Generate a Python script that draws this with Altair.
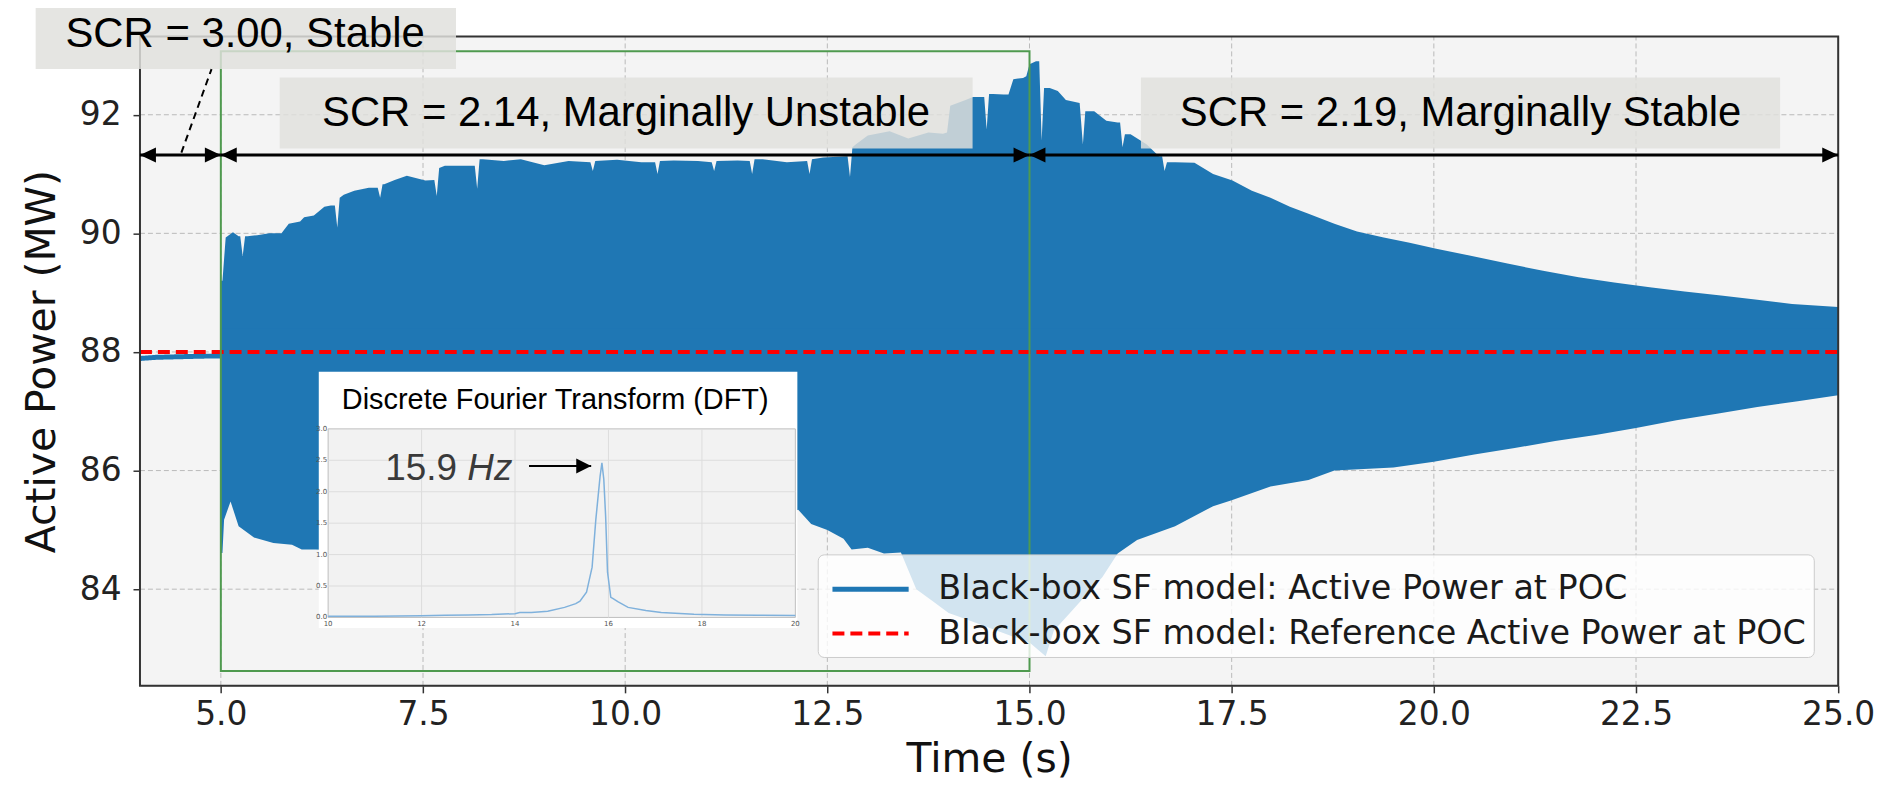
import altair as alt
import pandas as pd

# ---------------- values ----------------
BLUE = "#1f77b4"

# steady-state segment before the SCR change (t < 5 s)
pre_t = [4.0, 4.2, 4.5, 4.8, 5.0]
pre_p = [87.89, 87.91, 87.92, 87.93, 87.93]

# reference active power (dashed red)
ref_t = [4.0, 25.0]
ref_p = [88.0, 88.0]

# upper envelope of the oscillating active power
up_t = [5.0, 5.02, 5.06, 5.15, 5.22, 5.24, 5.27, 5.30, 5.33, 5.45, 5.6, 5.75, 5.84, 5.98,
        6.03, 6.15, 6.28, 6.36, 6.41, 6.44, 6.47, 6.52, 6.65, 6.83, 6.94, 6.97, 7.0, 7.02,
        7.15, 7.30, 7.53, 7.64, 7.67, 7.70, 7.77, 8.0, 8.14, 8.17, 8.20, 8.24, 8.5, 8.71,
        9.0, 9.3, 9.57, 9.6, 9.63, 9.9, 10.2, 10.37, 10.4, 10.43, 10.6, 10.9, 11.07, 11.1,
        11.13, 11.39, 11.54, 11.57, 11.6, 11.7, 12.0, 12.25, 12.28, 12.31, 12.45, 12.75,
        12.78, 12.81, 12.85, 13.0, 13.27, 13.5, 13.75, 13.93, 13.98, 14.02, 14.21, 14.3,
        14.44, 14.47, 14.5, 14.55, 14.68, 14.74, 14.8, 14.92, 14.96, 15.0, 15.08, 15.12,
        15.15, 15.18, 15.25, 15.35, 15.45, 15.62, 15.66, 15.69, 15.8, 15.95, 16.09, 16.12,
        16.15, 16.18, 16.25, 16.45, 16.6, 16.64, 16.67, 16.70, 16.8, 17.04, 17.27, 17.51,
        17.75, 17.98, 18.22, 18.45, 18.77, 19.05, 19.38, 19.7, 20.03, 20.47, 20.91, 21.35,
        21.79, 22.23, 22.67, 23.1, 23.55, 24.0, 24.43, 25.0]
up_p = [89.2, 89.2, 89.93, 90.02, 89.95, 89.95, 89.62, 89.95, 89.95, 89.97, 90.0, 90.0, 90.16, 90.2,
        90.27, 90.3, 90.45, 90.47, 90.47, 90.1, 90.6, 90.65, 90.72, 90.77, 90.77, 90.6, 90.83, 90.83,
        90.9, 90.97, 90.89, 90.9, 90.63, 91.1, 91.14, 91.14, 91.14, 90.75, 91.25, 91.25, 91.22, 91.25,
        91.15, 91.22, 91.2, 91.05, 91.22, 91.24, 91.2, 91.2, 91.0, 91.22, 91.23, 91.22, 91.2, 91.05,
        91.22, 91.23, 91.22, 91.0, 91.25, 91.25, 91.2, 91.22, 91.0, 91.25, 91.28, 91.3,
        90.95, 91.45, 91.5, 91.65, 91.72, 91.6, 91.7, 91.68, 91.7, 92.15, 92.25, 92.3,
        92.3, 91.75, 92.35, 92.35, 92.34, 92.34, 92.6, 92.62, 92.65, 92.85, 92.9, 92.9,
        91.56, 92.45, 92.45, 92.4, 92.25, 92.2, 91.5, 92.06, 92.06, 91.9, 91.87, 91.87,
        91.45, 91.67, 91.67, 91.5, 91.3, 91.3, 91.05, 91.2, 91.2, 91.19, 91.0, 90.89,
        90.72, 90.6, 90.45, 90.33, 90.16, 90.03, 89.93, 89.84, 89.74, 89.62, 89.49, 89.37,
        89.26, 89.17, 89.09, 89.02, 88.95, 88.88, 88.81, 88.76]

# lower envelope of the oscillating active power
lo_t = [5.0, 5.02, 5.04, 5.12, 5.22, 5.41, 5.65, 5.88, 6.0, 6.17, 6.6, 7.2, 8.0, 9.0, 10.0,
        11.0, 11.8, 12.14, 12.3, 12.5, 12.7, 12.8, 13.0, 13.2, 13.41, 13.6, 13.8, 14.0, 14.2,
        14.4, 14.6, 14.8, 15.0, 15.2, 15.3, 15.5, 15.7, 15.9, 16.09, 16.33, 16.8, 17.27, 17.5,
        17.98, 18.45, 18.77, 19.5, 20.0, 20.5, 21.0, 21.5, 22.0, 22.5, 23.0, 23.5, 24.0, 24.5, 25.0]
lo_p = [84.61, 84.61, 85.17, 85.48, 85.06, 84.87, 84.78, 84.75, 84.67, 84.67, 84.65, 84.7, 84.75, 84.8, 84.9,
        85.0, 85.2, 85.34, 85.1, 85.0, 84.85, 84.67, 84.7, 84.6, 84.62, 84.0, 83.8, 83.6, 83.5,
        83.4, 83.3, 83.2, 83.1, 82.87, 83.3, 83.6, 83.9, 84.2, 84.6, 84.83, 85.06, 85.4, 85.5,
        85.73, 85.84, 86.0, 86.05, 86.15, 86.27, 86.38, 86.5, 86.6, 86.72, 86.85, 86.96, 87.07, 87.17, 87.27]

series_names = ["Black-box SF model: Active Power at POC",
                "Black-box SF model: Reference Active Power at POC"]

# axis ticks
x_ticks = [5.0, 7.5, 10.0, 12.5, 15.0, 17.5, 20.0, 22.5, 25.0]
y_ticks = [84, 86, 88, 90, 92]
x_dom = [4.0, 25.0]
y_dom = [82.37, 93.32]

# annotation boxes
box_labels = ["SCR = 3.00, Stable", "SCR = 2.14, Marginally Unstable", "SCR = 2.19, Marginally Stable"]
box_x0 = [2.71, 5.728, 16.378]
box_x1 = [7.908, 14.296, 24.281]
box_y0 = [92.77, 91.43, 91.43]
box_y1 = [93.95, 92.63, 92.63]
box_tx = [5.30, 10.01, 20.33]
box_ty = [93.36, 92.03, 92.03]

# section arrows
arrow_x0 = [4.0, 5.0, 15.0]
arrow_x1 = [5.0, 15.0, 25.0]
arrow_y = [91.32, 91.32, 91.32]

# connector from the first label to its section
conn_x = [4.512, 4.885]
conn_y = [91.36, 92.77]

# zoom window (green)
win_x = [5.0, 15.0]
win_y = [82.62, 93.07]

# DFT inset
dft_f = [10.0, 11.0, 12.0, 12.5, 13.0, 13.5, 14.0, 14.1, 14.35, 14.7, 15.06, 15.3, 15.39, 15.53,
         15.65, 15.73, 15.82, 15.86, 15.9, 15.94, 15.98, 16.05, 16.1, 16.2, 16.42, 16.8, 17.13,
         17.83, 18.5, 19.2, 20.0]
dft_a = [0.02, 0.02, 0.025, 0.035, 0.04, 0.045, 0.06, 0.08, 0.08, 0.1, 0.16, 0.22, 0.26, 0.4,
         0.8, 1.56, 2.24, 2.46, 2.2, 1.6, 0.72, 0.32, 0.3, 0.25, 0.16, 0.11, 0.08,
         0.05, 0.04, 0.035, 0.03]
dft_xticks = [10, 12, 14, 16, 18, 20]
dft_yticks = [0.0, 0.5, 1.0, 1.5, 2.0, 2.5, 3.0]
inset_box_x = [9.80, 20.043]
inset_box_y = [-0.17, 3.908]
inset_title = "Discrete Fourier Transform (DFT)"
inset_title_pos = [14.86, 3.46]
peak_num = "15.9"
peak_unit = "Hz"
peak_text_pos = [12.76, 12.98, 2.19]
peak_arrow = [14.30, 15.63, 2.41]

# ---------------- chart ----------------
W, H = 1705, 652
xs = alt.Scale(domain=x_dom, nice=False, zero=False)
ys = alt.Scale(domain=y_dom, nice=False, zero=False)
GRID = "#b9b9b9"

xaxis = alt.Axis(values=x_ticks, format=".1f", title="Time (s)", labelFont="DejaVu Sans",
                 labelFontSize=33, labelColor="#222", titleFont="DejaVu Sans", titleFontSize=41,
                 titleFontWeight="normal", titleColor="#111", tickSize=7, tickColor="#333",
                 tickWidth=1.5, domain=False, grid=False, labelPadding=6, titlePadding=8,
                 labelFlush=False, orient="bottom")
yaxis = alt.Axis(values=y_ticks, format="d", title="Active Power (MW)", labelFont="DejaVu Sans",
                 labelFontSize=33, labelColor="#222", titleFont="DejaVu Sans", titleFontSize=41,
                 titleFontWeight="normal", titleColor="#111", tickSize=7, tickColor="#333",
                 tickWidth=1.5, domain=False, grid=False, labelPadding=12, titlePadding=16,
                 orient="left")

# plot background and dashed grid (drawn as marks so they sit under the data)
bg_df = pd.DataFrame({"x0": [x_dom[0]], "x1": [x_dom[1]], "y0": [y_dom[0]], "y1": [y_dom[1]]})
bg = alt.Chart(bg_df).mark_rect(fill="#f4f4f4").encode(
    x=alt.X("x0:Q", scale=xs, axis=xaxis), x2="x1:Q",
    y=alt.Y("y0:Q", scale=ys, axis=yaxis), y2="y1:Q",
)
gx_df = pd.DataFrame({"x": x_ticks[:-1], "y0": y_dom[0], "y1": y_dom[1]})
gridx = alt.Chart(gx_df).mark_rule(color=GRID, strokeWidth=1, strokeDash=[5, 3]).encode(
    x=alt.X("x:Q", scale=xs, axis=None),
    y=alt.Y("y0:Q", scale=ys, axis=None), y2="y1:Q",
)
gy_df = pd.DataFrame({"y": y_ticks, "x0": x_dom[0], "x1": x_dom[1]})
gridy = alt.Chart(gy_df).mark_rule(color=GRID, strokeWidth=1, strokeDash=[5, 3]).encode(
    y=alt.Y("y:Q", scale=ys, axis=None),
    x=alt.X("x0:Q", scale=xs, axis=None), x2="x1:Q",
)

up_df = pd.DataFrame({"t": up_t, "p": up_p})
lo_df = pd.DataFrame({"t": lo_t, "p": lo_p})

band_up = alt.Chart(up_df).mark_area(color=BLUE, opacity=1).encode(
    x=alt.X("t:Q", scale=xs, axis=None),
    y=alt.Y("p:Q", scale=ys, axis=None),
    y2=alt.datum(87.6),
)
band_lo = alt.Chart(lo_df).mark_area(color=BLUE, opacity=1).encode(
    x=alt.X("t:Q", scale=xs, axis=None),
    y=alt.Y("p:Q", scale=ys, axis=None),
    y2=alt.datum(88.4),
)

line_df = pd.concat([
    pd.DataFrame({"t": pre_t, "p": pre_p, "series": series_names[0]}),
    pd.DataFrame({"t": ref_t, "p": ref_p, "series": series_names[1]}),
])
leg = alt.Legend(title=None, orient="none", legendX=680.5, legendY=520,
                 symbolType="M-1.5,0L1.5,0", symbolSize=2601, symbolStrokeWidth=5,
                 symbolOffset=18, labelOffset=40, rowPadding=0, padding=7,
                 labelFont="DejaVu Sans", labelFontSize=33.5, labelColor="#1a1a1a",
                 fillColor="rgba(255,255,255,0.8)", strokeColor="#cccccc", cornerRadius=6,
                 labelLimit=2000, symbolFillColor="transparent")
lines = alt.Chart(line_df).mark_line().encode(
    x=alt.X("t:Q", scale=xs, axis=None),
    y=alt.Y("p:Q", scale=ys, axis=None),
    color=alt.Color("series:N", scale=alt.Scale(domain=series_names, range=[BLUE, "#ff0000"]), legend=leg),
    strokeDash=alt.StrokeDash("series:N", scale=alt.Scale(domain=series_names, range=[[1, 0], [12, 6]]), legend=leg),
    strokeWidth=alt.StrokeWidth("series:N", scale=alt.Scale(domain=series_names, range=[5, 4]), legend=None),
)

win_df = pd.DataFrame({"x0": [win_x[0]], "x1": [win_x[1]], "y0": [win_y[0]], "y1": [win_y[1]]})
window = alt.Chart(win_df).mark_rect(fill="transparent", stroke="#4f9a4f", strokeWidth=2).encode(
    x=alt.X("x0:Q", scale=xs, axis=None), x2="x1:Q",
    y=alt.Y("y0:Q", scale=ys, axis=None), y2="y1:Q",
)

frame = alt.Chart(bg_df).mark_rect(fill="transparent", stroke="#333", strokeWidth=2).encode(
    x=alt.X("x0:Q", scale=xs, axis=None), x2="x1:Q",
    y=alt.Y("y0:Q", scale=ys, axis=None), y2="y1:Q",
)

box_df = pd.DataFrame({"x0": box_x0, "x1": box_x1, "y0": box_y0, "y1": box_y1,
                       "tx": box_tx, "ty": box_ty, "label": box_labels})
boxes = alt.Chart(box_df).mark_rect(fill="#e0e0dc", opacity=0.84).encode(
    x=alt.X("x0:Q", scale=xs, axis=None), x2="x1:Q",
    y=alt.Y("y0:Q", scale=ys, axis=None), y2="y1:Q",
)
box_text = alt.Chart(box_df).mark_text(font="Liberation Sans", fontSize=42, color="#000",
                                       baseline="middle", align="center").encode(
    x=alt.X("tx:Q", scale=xs, axis=None),
    y=alt.Y("ty:Q", scale=ys, axis=None),
    text="label:N",
)

arr_df = pd.DataFrame({"x0": arrow_x0, "x1": arrow_x1, "y": arrow_y})
arr_lines = alt.Chart(arr_df).mark_rule(color="#000", strokeWidth=3).encode(
    x=alt.X("x0:Q", scale=xs, axis=None), x2="x1:Q",
    y=alt.Y("y:Q", scale=ys, axis=None),
)
head_df = pd.DataFrame({
    "x": arrow_x0 + arrow_x1,
    "y": arrow_y + arrow_y,
    "dir": ["L"] * len(arrow_x0) + ["R"] * len(arrow_x1),
})
HEAD_L = "M0,0L2,-0.94L2,0.94Z"
HEAD_R = "M0,0L-2,-0.94L-2,0.94Z"
heads = alt.Chart(head_df).mark_point(filled=True, color="#000", size=256, opacity=1, strokeWidth=0).encode(
    x=alt.X("x:Q", scale=xs, axis=None),
    y=alt.Y("y:Q", scale=ys, axis=None),
    shape=alt.Shape("dir:N", scale=alt.Scale(domain=["L", "R"], range=[HEAD_L, HEAD_R]), legend=None),
)

conn_df = pd.DataFrame({"x0": [conn_x[0]], "x1": [conn_x[1]], "y0": [conn_y[0]], "y1": [conn_y[1]]})
conn = alt.Chart(conn_df).mark_rule(color="#000", strokeWidth=2, strokeDash=[7, 5]).encode(
    x=alt.X("x0:Q", scale=xs, axis=None), x2="x1:Q",
    y=alt.Y("y0:Q", scale=ys, axis=None), y2="y1:Q",
)

# ---------------- inset (own scales) ----------------
ixs = alt.Scale(domain=[10, 20], range=[188.9, 658.0], nice=False, zero=False)
iys = alt.Scale(domain=[0, 3], range=[583.3, 394.0], nice=False, zero=False)

ibox_df = pd.DataFrame({"x0": [inset_box_x[0]], "x1": [inset_box_x[1]],
                        "y0": [inset_box_y[0]], "y1": [inset_box_y[1]]})
ibox = alt.Chart(ibox_df).mark_rect(fill="white").encode(
    x=alt.X("x0:Q", scale=ixs, axis=None), x2="x1:Q",
    y=alt.Y("y0:Q", scale=iys, axis=None), y2="y1:Q",
)
iplot_df = pd.DataFrame({"x0": [dft_xticks[0]], "x1": [dft_xticks[-1]],
                         "y0": [dft_yticks[0]], "y1": [dft_yticks[-1]]})
iplot = alt.Chart(iplot_df).mark_rect(fill="#f2f2f2", stroke="#bdbdbd", strokeWidth=1).encode(
    x=alt.X("x0:Q", scale=ixs, axis=None), x2="x1:Q",
    y=alt.Y("y0:Q", scale=iys, axis=None), y2="y1:Q",
)
vg_df = pd.DataFrame({"f": dft_xticks[1:-1], "y0": dft_yticks[0], "y1": dft_yticks[-1]})
vgrid = alt.Chart(vg_df).mark_rule(color="#dddddd", strokeWidth=1).encode(
    x=alt.X("f:Q", scale=ixs, axis=None),
    y=alt.Y("y0:Q", scale=iys, axis=None), y2="y1:Q",
)
hg_df = pd.DataFrame({"a": dft_yticks[1:-1], "x0": dft_xticks[0], "x1": dft_xticks[-1]})
hgrid = alt.Chart(hg_df).mark_rule(color="#dddddd", strokeWidth=1).encode(
    y=alt.Y("a:Q", scale=iys, axis=None),
    x=alt.X("x0:Q", scale=ixs, axis=None), x2="x1:Q",
)
dft_df = pd.DataFrame({"f": dft_f, "a": dft_a})
dft_line = alt.Chart(dft_df).mark_line(color="#7fb1dc", strokeWidth=1.5).encode(
    x=alt.X("f:Q", scale=ixs, axis=None),
    y=alt.Y("a:Q", scale=iys, axis=None),
)
ylab_df = pd.DataFrame({"a": dft_yticks, "f": dft_xticks[0],
                        "lab": [f"{v:.1f}" for v in dft_yticks]})
ylabs = alt.Chart(ylab_df).mark_text(fontSize=7, color="#555", align="right", baseline="middle", dx=-1,
                                     font="DejaVu Sans").encode(
    x=alt.X("f:Q", scale=ixs, axis=None), y=alt.Y("a:Q", scale=iys, axis=None), text="lab:N")
xlab_df = pd.DataFrame({"f": dft_xticks, "a": dft_yticks[0], "lab": [str(v) for v in dft_xticks]})
xlabs = alt.Chart(xlab_df).mark_text(fontSize=7, color="#555", align="center", baseline="top", dy=3,
                                     font="DejaVu Sans").encode(
    x=alt.X("f:Q", scale=ixs, axis=None), y=alt.Y("a:Q", scale=iys, axis=None), text="lab:N")
ititle_df = pd.DataFrame({"f": [inset_title_pos[0]], "a": [inset_title_pos[1]], "lab": [inset_title]})
ititle = alt.Chart(ititle_df).mark_text(font="Liberation Sans", fontSize=29, color="#000",
                                        align="center", baseline="middle").encode(
    x=alt.X("f:Q", scale=ixs, axis=None), y=alt.Y("a:Q", scale=iys, axis=None), text="lab:N")
num_df = pd.DataFrame({"f": [peak_text_pos[0]], "a": [peak_text_pos[2]], "lab": [peak_num]})
num_txt = alt.Chart(num_df).mark_text(font="Liberation Sans", fontSize=37, color="#3a3a3a",
                                      align="right", baseline="alphabetic").encode(
    x=alt.X("f:Q", scale=ixs, axis=None), y=alt.Y("a:Q", scale=iys, axis=None), text="lab:N")
unit_df = pd.DataFrame({"f": [peak_text_pos[1]], "a": [peak_text_pos[2]], "lab": [peak_unit]})
unit_txt = alt.Chart(unit_df).mark_text(font="Liberation Sans", fontSize=37, color="#3a3a3a",
                                        fontStyle="italic", align="left", baseline="alphabetic").encode(
    x=alt.X("f:Q", scale=ixs, axis=None), y=alt.Y("a:Q", scale=iys, axis=None), text="lab:N")
pa_df = pd.DataFrame({"x0": [peak_arrow[0]], "x1": [peak_arrow[1]], "a": [peak_arrow[2]]})
pa_line = alt.Chart(pa_df).mark_rule(color="#000", strokeWidth=2).encode(
    x=alt.X("x0:Q", scale=ixs, axis=None), x2="x1:Q", y=alt.Y("a:Q", scale=iys, axis=None))
pa_head = alt.Chart(pa_df).mark_point(filled=True, color="#000", size=225, opacity=1, strokeWidth=0,
                                      shape="M0,0L-2,-1L-2,1Z").encode(
    x=alt.X("x1:Q", scale=ixs, axis=None), y=alt.Y("a:Q", scale=iys, axis=None))

chart = alt.layer(
    bg, gridx, gridy, band_up, band_lo, lines, window, frame, boxes, box_text, arr_lines, heads, conn,
    ibox, iplot, vgrid, hgrid, dft_line, ylabs, xlabs, ititle, num_txt, unit_txt, pa_line, pa_head,
).resolve_scale(x="independent", y="independent").properties(
    width=W, height=H,
    autosize=alt.AutoSizeParams(type="none"),
    padding={"left": 132.5, "top": 27, "right": 47, "bottom": 106},
).configure_view(stroke=None).configure(background="white")

chart.save("out.html", embed_options={"renderer": "svg", "actions": False})
